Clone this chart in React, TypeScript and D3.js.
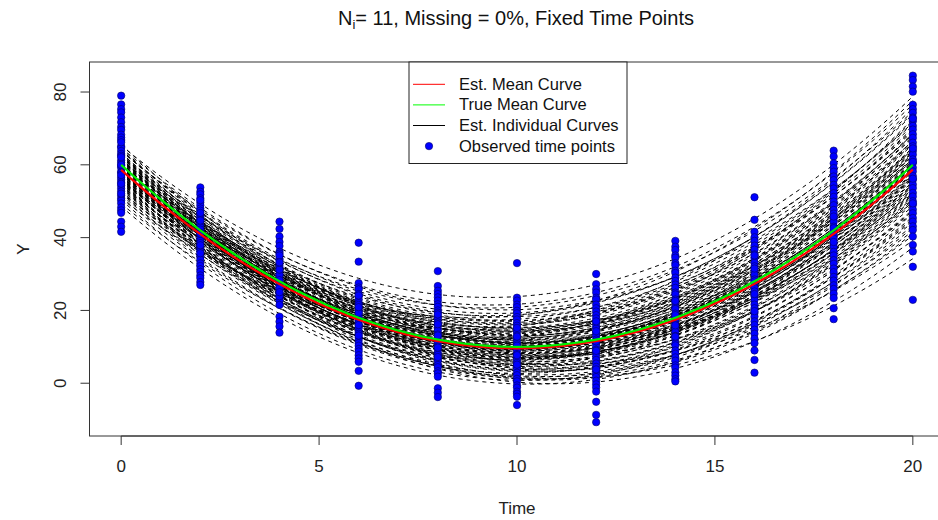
import React from "react";
import * as d3 from "d3";

// Measurement occasions (fixed design)
const timePoints = [0, 2, 4, 6, 8, 10, 12, 14, 16, 18, 20];

// Observed responses at each occasion
const obsT0 = [79.0, 76.6, 75.3, 74.4, 73.0, 71.7, 70.4, 69.6, 68.3, 67.5, 66.8, 65.1, 64.7, 63.8, 63.0, 62.5, 61.2, 60.6, 59.7, 59.2, 58.1, 57.8, 56.6, 55.9, 55.2, 54.3, 53.5, 52.7, 51.6, 50.8, 50.2, 49.4, 48.3, 47.5, 46.8, 44.4, 43.0, 41.6, 62.1, 57.2, 54.8, 60.0, 66.2, 52.1];
const obsT2 = [53.8, 52.6, 51.9, 50.8, 49.7, 48.9, 48.0, 47.4, 46.3, 45.8, 45.1, 44.3, 43.5, 42.8, 42.2, 41.3, 40.7, 39.8, 39.1, 38.5, 37.4, 36.8, 36.2, 35.2, 34.7, 33.9, 32.9, 32.2, 31.3, 30.6, 29.6, 28.9, 27.8, 27.0, 44.7, 41.1, 37.9, 35.7, 46.8, 50.3];
const obsT4 = [44.4, 42.4, 40.3, 38.8, 37.7, 36.1, 35.6, 34.2, 33.8, 32.5, 31.8, 30.9, 30.0, 29.5, 28.6, 27.8, 27.2, 26.4, 25.7, 24.8, 24.2, 23.3, 22.7, 21.5, 18.3, 16.9, 15.6, 13.9, 29.8, 26.1, 31.2, 23.9, 35.1, 28.3, 25.0, 33.2];
const obsT6 = [38.6, 33.4, 27.5, 26.3, 25.8, 24.5, 23.8, 22.9, 22.0, 21.5, 20.2, 19.7, 18.8, 18.1, 17.3, 16.6, 15.7, 15.1, 14.1, 13.6, 12.6, 11.9, 11.0, 10.3, 9.4, 8.7, 7.7, 6.8, 5.9, 3.4, -0.7, 19.3, 16.0, 13.1, 20.9, 24.1];
const obsT8 = [30.8, 26.7, 25.4, 24.5, 23.6, 22.7, 21.7, 21.0, 20.0, 19.4, 18.3, 17.7, 16.7, 16.0, 15.0, 14.4, 13.4, 12.7, 11.8, 11.1, 10.1, 9.5, 8.4, 7.8, 6.7, 6.1, 5.0, 4.4, 3.3, 2.7, 1.8, -1.4, -2.6, -3.8, 13.1, 16.2, 9.8, 7.2, 18.9];
const obsT10 = [33.0, 23.5, 22.7, 21.6, 20.9, 19.9, 19.2, 18.2, 17.5, 16.5, 15.8, 14.8, 14.1, 13.1, 12.4, 11.4, 10.7, 9.7, 9.0, 8.0, 7.3, 6.3, 5.6, 4.6, 3.9, 2.9, 2.2, 1.2, 0.5, -0.6, -1.2, -2.3, -2.9, -3.7, -6.0, 10.3, 12.8, 7.7, 15.2, 5.1];
const obsT12 = [30.0, 27.2, 25.8, 24.9, 23.5, 23.0, 21.6, 20.6, 19.7, 18.7, 17.8, 16.8, 15.7, 15.0, 13.7, 13.0, 12.0, 11.1, 10.2, 9.2, 8.3, 7.3, 6.4, 5.4, 4.5, 3.5, 2.6, 1.7, 0.7, -0.3, -1.2, -2.3, -5.1, -8.7, -10.7, 14.3, 11.5, 8.9, 17.0, 3.8];
const obsT14 = [39.1, 37.5, 36.6, 35.1, 34.5, 33.0, 32.4, 30.9, 30.3, 29.0, 28.1, 27.1, 26.2, 24.9, 24.4, 23.0, 22.3, 20.9, 20.4, 19.1, 18.1, 17.2, 16.2, 15.1, 14.1, 13.0, 12.3, 10.9, 10.4, 9.0, 8.1, 7.1, 6.2, 4.9, 4.3, 3.0, 2.1, 1.1, 0.5, 18.7, 22.6, 15.9, 12.8];
const obsT16 = [51.1, 44.9, 41.6, 40.1, 39.1, 37.8, 36.7, 35.4, 34.4, 33.1, 32.1, 30.8, 29.8, 28.5, 27.5, 26.2, 25.2, 23.9, 22.9, 21.6, 20.6, 19.3, 18.3, 17.0, 16.0, 14.7, 13.6, 12.2, 11.0, 9.0, 6.4, 2.9, 28.0, 31.5, 24.5, 35.1, 19.8];
const obsT18 = [63.9, 62.3, 60.4, 59.1, 58.1, 56.8, 55.8, 54.5, 53.5, 52.2, 51.2, 49.9, 48.9, 47.6, 46.6, 45.3, 44.3, 43.0, 42.0, 40.7, 39.7, 38.4, 37.4, 36.1, 35.1, 33.8, 32.8, 31.5, 30.5, 29.2, 28.2, 26.9, 25.9, 24.6, 23.4, 20.6, 17.6, 42.6, 45.8, 38.8];
const obsT20 = [84.5, 83.3, 81.5, 80.1, 76.5, 75.3, 74.3, 73.0, 72.0, 70.7, 69.7, 68.4, 67.4, 66.1, 65.1, 63.8, 62.8, 61.5, 60.5, 59.2, 58.2, 56.9, 55.9, 54.6, 53.6, 52.3, 51.3, 50.0, 49.0, 47.7, 46.7, 45.4, 44.4, 43.1, 42.1, 40.3, 38.0, 36.2, 32.0, 22.9, 60.8, 64.5, 56.2, 72.7, 49.4];
const observed = [obsT0, obsT2, obsT4, obsT6, obsT8, obsT10, obsT12, obsT14, obsT16, obsT18, obsT20];

// Fitted individual curves: each subject's quadratic, given by its fitted value at t = 0, 10 and 20
const fitAt0 = [65.3, 63.8, 61.4, 64.7, 60.2, 62.6, 57.3, 63.9, 59.6, 61.2, 56.8, 62.4, 58.7, 60.3, 55.4, 61.7, 59.2, 64.6, 57.6, 60.8, 58.4, 62.9, 54.3, 59.8, 61.3, 56.7, 58.2, 63.4, 57.8, 60.6, 53.2, 59.4, 61.8, 58.6, 55.7, 60.1, 62.3, 57.4, 59.3, 52.6, 61.6, 58.9, 56.3, 60.7, 54.8, 59.7, 55.2, 58.3, 57.6, 60.4, 53.7, 58.1, 55.6, 59.1, 56.4, 52.3, 58.8, 54.6, 56.9, 50.4, 55.3, 48.6, 51.7, 62.7, 52.4, 55.8, 49.3, 65.6, 64.2, 50.7,
  60.9, 57.1, 62.2, 55.9, 59.5, 58.0, 61.1, 56.1, 63.1, 54.2, 59.0, 57.4, 60.3, 53.9, 62.0, 58.5, 56.6, 60.5, 55.0, 64.0, 57.9, 59.9, 52.9, 61.4, 58.2, 56.2, 60.0, 51.2, 63.2, 57.0];
const fitAt10 = [23.8, 21.7, 20.9, 20.2, 18.8, 18.3, 17.6, 17.2, 16.7, 16.1, 15.8, 15.2, 14.7, 15.1, 14.2, 13.8, 14.3, 13.1, 12.7, 13.2, 12.3, 11.8, 12.1, 11.6, 11.2, 10.7, 11.1, 10.9, 10.2, 9.8, 10.3, 9.6, 10.1, 9.2, 8.8, 9.3, 8.6, 8.1, 7.8, 8.3, 7.7, 7.2, 6.8, 7.1, 6.6, 6.1, 5.8, 6.3, 5.2, 4.8, 5.1, 4.3, 3.8, 4.1, 3.2, 2.7, 2.1, 1.8, 1.2, 0.8, 0.3, -0.2, 3.6, 5.7, 12.8, 18.6, 1.6, 10.6, 7.9, 15.7,
  12.4, 8.4, 14.6, 6.9, 11.3, 9.9, 13.6, 7.4, 16.4, 4.6, 10.8, 8.9, 12.9, 3.4, 15.3, 10.4, 7.0, 11.9, 5.4, 19.3, 9.1, 13.3, 2.4, 14.1, 8.2, 6.4, 11.0, 1.3, 17.1, 10.0];
const fitAt20 = [78.8, 76.6, 74.7, 71.3, 73.8, 69.2, 71.6, 67.4, 69.7, 68.3, 70.8, 64.2, 66.6, 62.3, 65.8, 68.7, 61.2, 63.4, 64.7, 58.3, 63.6, 60.2, 61.8, 66.7, 59.1, 62.6, 56.3, 60.8, 59.7, 57.2, 61.6, 54.3, 64.8, 58.2, 55.3, 60.6, 53.4, 56.2, 58.7, 52.2, 56.8, 54.1, 51.3, 59.6, 55.2, 50.3, 52.7, 56.6, 49.2, 51.8, 54.7, 47.3, 49.8, 45.2, 47.7, 50.6, 44.3, 45.8, 41.2, 46.6, 37.3, 42.7, 39.2, 41.8, 72.6, 77.7, 34.2, 49.7, 46.8, 75.6,
  63.1, 55.9, 66.2, 53.8, 61.1, 57.4, 67.9, 51.9, 70.1, 48.6, 60.3, 54.6, 64.3, 44.7, 68.4, 58.9, 52.6, 62.7, 50.9, 74.2, 57.0, 65.6, 43.3, 63.9, 53.1, 57.8, 59.4, 40.6, 72.1, 61.6];

// Population mean curves, given by their values at t = 0, 10 and 20
const trueMean = [60, 10, 60];
const estMean = [58.6, 9.6, 58.7];

const xTicks = [0, 5, 10, 15, 20];
const yTicks = [0, 20, 40, 60, 80];

const legendItems = [
  { label: "Est. Mean Curve", kind: "line", color: "#ff0000" },
  { label: "True Mean Curve", kind: "line", color: "#00ff00" },
  { label: "Est. Individual Curves", kind: "line", color: "#000000" },
  { label: "Observed time points", kind: "point", color: "#0000ff" },
];

const W = 938;
const H = 520;
const FONT = "'Liberation Sans', Arial, sans-serif";

const x = d3.scaleLinear().domain([-0.8, 20.8]).range([89.5, 944.5]);
const y = d3.scaleLinear().domain([-14.5, 88.25]).range([436, 62]);

// Quadratic through the values at t = 0, 10, 20
function quad(v: number[]) {
  return (t: number) =>
    (v[0] * (t - 10) * (t - 20)) / 200 -
    (v[1] * t * (t - 20)) / 100 +
    (v[2] * t * (t - 10)) / 200;
}

const grid = d3.range(0, 20.0001, 0.2);
const line = d3
  .line<[number, number]>()
  .x((d) => x(d[0]))
  .y((d) => y(d[1]));

function curvePath(v: number[]) {
  const f = quad(v);
  return line(grid.map((t) => [t, f(t)] as [number, number])) || "";
}

export default function App() {
  const subjects = fitAt0.map((_, i) => [fitAt0[i], fitAt10[i], fitAt20[i]]);
  const [x0, x1] = x.range();
  const [yb, yt] = y.range();
  const legX = 409;
  const legY = 62;
  const legW = 218;
  const rowH = 20.6;

  return (
    <svg
      width={W}
      height={H}
      style={{ position: "absolute", left: 0, top: 0, background: "#fff" }}
      fontFamily={FONT}
    >
      <rect x={0} y={0} width={W} height={H} fill="#fff" />
      <defs>
        <clipPath id="plotArea">
          <rect x={x0} y={yt} width={x1 - x0} height={yb - yt} />
        </clipPath>
      </defs>

      <g clipPath="url(#plotArea)">
        {subjects.map((s, i) => (
          <path
            key={"c" + i}
            d={curvePath(s)}
            fill="none"
            stroke="#000"
            strokeWidth={1}
            strokeDasharray="4 4"
          />
        ))}
        {observed.map((col, j) =>
          col.map((v, k) => (
            <circle
              key={"p" + j + "-" + k}
              cx={x(timePoints[j])}
              cy={y(v)}
              r={3.7}
              fill="#0000ff"
              stroke="#000066"
              strokeWidth={0.6}
            />
          ))
        )}
        <path d={curvePath(estMean)} fill="none" stroke="#ff0000" strokeWidth={2.2} />
        <path d={curvePath(trueMean)} fill="none" stroke="#00ee00" strokeWidth={2.2} />
      </g>

      {/* plot frame */}
      <rect x={x0} y={yt} width={x1 - x0} height={yb - yt} fill="none" stroke="#333" strokeWidth={1} />

      {/* x axis */}
      <g stroke="#333" strokeWidth={1}>
        <line x1={x(xTicks[0])} x2={x(xTicks[xTicks.length - 1])} y1={yb} y2={yb} />
        {xTicks.map((t) => (
          <line key={"xt" + t} x1={x(t)} x2={x(t)} y1={yb} y2={yb + 9} />
        ))}
      </g>
      {xTicks.map((t) => (
        <text key={"xl" + t} x={x(t)} y={472} textAnchor="middle" fontSize={17} fill="#222">
          {t}
        </text>
      ))}
      <text x={(x0 + x1) / 2} y={514} textAnchor="middle" fontSize={17} fill="#222">
        Time
      </text>

      {/* y axis */}
      <g stroke="#333" strokeWidth={1}>
        <line x1={x0} x2={x0} y1={y(yTicks[0])} y2={y(yTicks[yTicks.length - 1])} />
        {yTicks.map((v) => (
          <line key={"yt" + v} x1={x0 - 9} x2={x0} y1={y(v)} y2={y(v)} />
        ))}
      </g>
      {yTicks.map((v) => (
        <text
          key={"yl" + v}
          transform={`translate(66,${y(v)}) rotate(-90)`}
          textAnchor="middle"
          fontSize={17}
          fill="#222"
        >
          {v}
        </text>
      ))}
      <text transform={`translate(29,${(yb + yt) / 2}) rotate(-90)`} textAnchor="middle" fontSize={17} fill="#222">
        Y
      </text>

      {/* title */}
      <text x={(x0 + x1) / 2 - 1} y={25} textAnchor="middle" fontSize={20} fill="#111">
        <tspan>N</tspan>
        <tspan dy={4} fontSize={13}>i</tspan>
        <tspan dy={-4}>= 11, Missing = 0%, Fixed Time Points</tspan>
      </text>

      {/* legend */}
      <rect x={legX} y={legY} width={legW} height={101.5} fill="#fff" stroke="#222" strokeWidth={1} />
      {legendItems.map((it, i) => {
        const cy = legY + 22.3 + i * rowH;
        return (
          <g key={"lg" + i}>
            {it.kind === "line" ? (
              <line x1={legX + 4} x2={legX + 36} y1={cy} y2={cy} stroke={it.color} strokeWidth={1} />
            ) : (
              <circle cx={legX + 20} cy={cy} r={3.7} fill={it.color} stroke="#000066" strokeWidth={0.6} />
            )}
            <text x={legX + 50} y={cy + 5.5} fontSize={16.5} fill="#111">
              {it.label}
            </text>
          </g>
        );
      })}
    </svg>
  );
}
